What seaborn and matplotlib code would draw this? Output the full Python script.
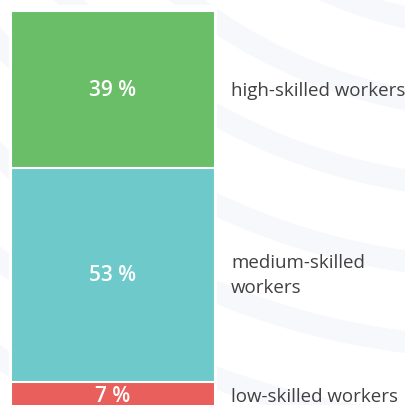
#!/usr/bin/env python3
"""
Skill levels of workers - single stacked bar
"""

import numpy as np
import pandas as pd
import matplotlib
matplotlib.use('Agg')
import matplotlib.pyplot as plt
from matplotlib.patches import Wedge, Rectangle
import seaborn as sns

# data (bottom to top)
groups = ['low-skilled workers', 'medium-skilled\nworkers', 'high-skilled workers']
shares = [7, 53, 39]
colors = ['#E85F5C', '#6DC9CA', '#69BE67']

sns.set_style("white")
plt.rcParams['font.family'] = ['Open Sans', 'DejaVu Sans']

fig = plt.figure(figsize=(4.05, 4.06), dpi=100)
fig.patch.set_facecolor('white')

# faint decorative background bands (pixel coords)
bg = fig.add_axes([0, 0, 1, 1])
bg.set_xlim(0, 405)
bg.set_ylim(406, 0)
bg.axis('off')
for r in np.arange(258, 1400, 80):
    bg.add_patch(Wedge((500, -400), r + 22, 0, 360, width=22,
                       facecolor='#F7F8FB', edgecolor='none'))
bg.add_patch(Rectangle((9, 6), 208, 410, facecolor='white', edgecolor='none'))

ax = fig.add_axes([0, 0, 1, 1])
ax.patch.set_alpha(0)

tops = np.cumsum(shares)
df = pd.DataFrame({'bar': ['all'] * 3, 'group': groups, 'share': shares, 'top': tops})

# stacked by overlaying cumulative bars, tallest first
for i in range(len(df) - 1, -1, -1):
    sns.barplot(x=['all'], y=[df['top'][i]], color=colors[i], width=0.8,
                edgecolor='white', linewidth=1.5, saturation=1, ax=ax)

for i, row in df.iterrows():
    mid = row['top'] - row['share'] / 2
    ax.text(0, mid, f"{row['share']} %", ha='center', va='center',
            color='white', fontsize=15, fontweight='semibold')
    ax.text(0.4627, mid, row['group'], ha='left', va='center',
            color='#404040', fontsize=13.5, linespacing=1.5)

# position bar: 255 px per category unit, 4.03 px per percent
ax.set_xlim(-0.4431, 1.1451)
ax.set_ylim(1.24, 101.98)
ax.axis('off')

fig.savefig('out.png', dpi=100, facecolor='white')
print("saved")
